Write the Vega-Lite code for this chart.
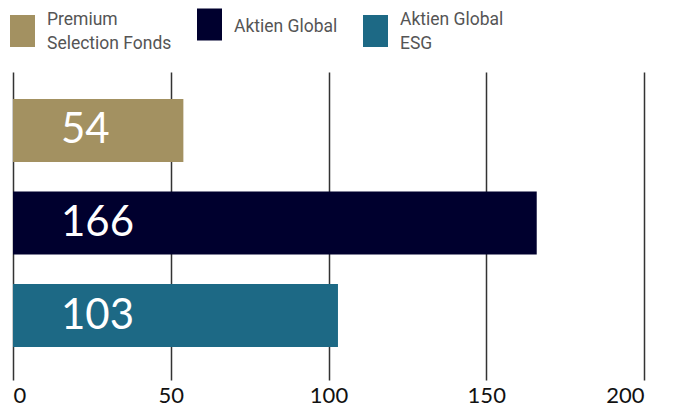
{
  "$schema": "https://vega.github.io/schema/vega-lite/v6.json",
  "width": 631,
  "height": 308,
  "autosize": {"type": "none"},
  "padding": {"left": 13, "top": 72, "right": 35, "bottom": 28},
  "background": "white",
  "config": {"view": {"stroke": null}},
  "data": {"values": [
    {"fund": "Premium Selection Fonds", "value": 54, "order": 1},
    {"fund": "Aktien Global", "value": 166, "order": 2},
    {"fund": "Aktien Global ESG", "value": 103, "order": 3}
  ]},
  "encoding": {
    "y": {"field": "fund", "type": "nominal", "sort": ["Premium Selection Fonds", "Aktien Global", "Aktien Global ESG"], "axis": null,
      "scale": {"paddingInner": 0.319, "paddingOuter": 0.324, "align": 0.45}}
  },
  "layer": [
    {
      "mark": {"type": "bar"},
      "encoding": {
        "x": {"field": "value", "type": "quantitative", "scale": {"domain": [0, 200], "nice": false},
          "axis": {"values": [0, 50, 100, 150, 200], "title": null, "domain": false, "grid": true, "gridColor": "#333333", "gridWidth": 1.5, "gridOpacity": 1,
            "ticks": false,
            "labelFont": "Lato", "labelFontSize": 22, "labelColor": "#111111", "labelPadding": 5}},
        "color": {"field": "fund", "type": "nominal",
          "scale": {"domain": ["Premium Selection Fonds", "Aktien Global", "Aktien Global ESG"], "range": ["#A39161", "#00002E", "#1D6985"]},
          "sort": ["Premium Selection Fonds", "Aktien Global", "Aktien Global ESG"],
          "legend": {"orient": "none", "legendX": -3, "legendY": -71, "direction": "horizontal", "title": null, "padding": 0,
            "symbolType": "M-1,-1.2L-1,-1.2ZM-1,-0.4H1V2.16H-1Z", "symbolSize": 625, "symbolStrokeWidth": 0, "symbolOpacity": 1,
            "labelFont": "Roboto", "labelFontSize": 17.5, "labelColor": "#555555", "labelOffset": 12, "labelLimit": 400,
            "columnPadding": 25,
            "labelExpr": "datum.label == 'Premium Selection Fonds' ? ['Premium', 'Selection Fonds'] : datum.label == 'Aktien Global ESG' ? ['Aktien Global', 'ESG'] : ['Aktien Global', ' ']",
            "encode": {"labels": {"update": {"lineHeight": {"value": 24}, "dy": {"signal": "datum.value == 'Aktien Global' ? 13 : 0"}}}}}}
      }
    },
    {
      "mark": {"type": "text", "align": "left", "baseline": "middle", "dx": 48, "font": "Lato", "fontSize": 42, "color": "white"},
      "encoding": {
        "x": {"datum": 0, "type": "quantitative"},
        "text": {"field": "value", "type": "quantitative"}
      }
    }
  ]
}
